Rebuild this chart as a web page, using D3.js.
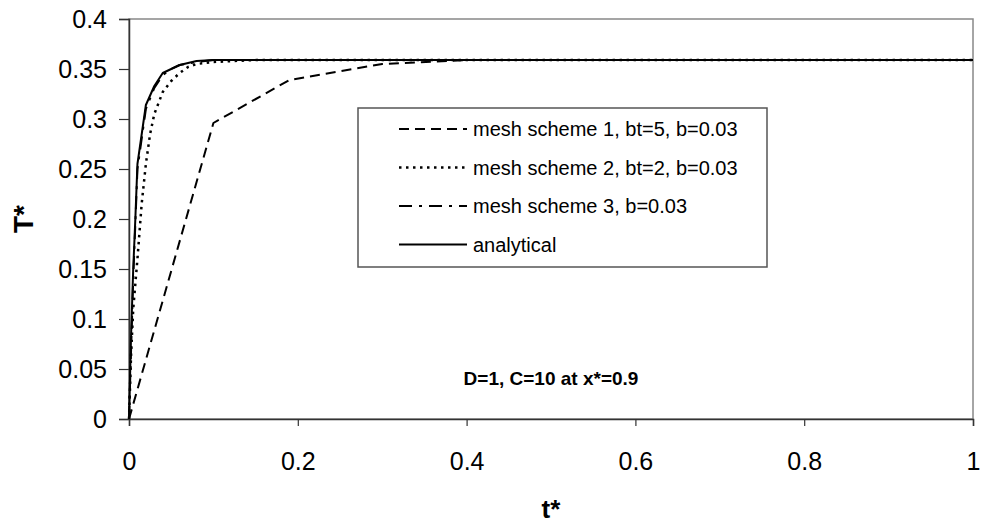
<!DOCTYPE html>
<html>
<head>
<meta charset="utf-8">
<script src="https://cdn.jsdelivr.net/npm/d3@7/dist/d3.min.js"></script>
<style>
  html, body { margin: 0; padding: 0; background: #fff; }
  svg { display: block; font-family: Arial, "Liberation Sans", sans-serif; }
</style>
</head>
<body>
<svg id="chart" width="981" height="525"></svg>
<script>
// Mesh scheme 1 (bt=5, b=0.03)
const tScheme1 = [0, 0.1, 0.19, 0.3, 0.4, 0.5, 0.6, 0.7, 0.8, 0.9, 1.0];
const TScheme1 = [0, 0.296, 0.339, 0.355, 0.359, 0.359, 0.359, 0.359, 0.359, 0.359, 0.359];

// Mesh scheme 2 (bt=2, b=0.03)
const tScheme2 = [0, 0.0025, 0.005, 0.01, 0.015, 0.02, 0.025, 0.03, 0.04, 0.05, 0.06, 0.07, 0.08, 0.1, 0.15, 0.2, 0.3, 0.4, 0.5, 0.6, 0.7, 0.8, 0.9, 1.0];
const TScheme2 = [0, 0.065, 0.11, 0.16, 0.215, 0.255, 0.285, 0.305, 0.327, 0.338, 0.346, 0.352, 0.355, 0.357, 0.359, 0.359, 0.359, 0.359, 0.359, 0.359, 0.359, 0.359, 0.359, 0.359];

// Mesh scheme 3 (b=0.03)
const tScheme3 = [0, 0.005, 0.01, 0.02, 0.03, 0.04, 0.05, 0.06, 0.08, 0.1, 0.2, 0.3, 0.4, 0.5, 0.6, 0.7, 0.8, 0.9, 1.0];
const TScheme3 = [0, 0.14, 0.25, 0.31, 0.331, 0.344, 0.35, 0.354, 0.357, 0.359, 0.359, 0.359, 0.359, 0.359, 0.359, 0.359, 0.359, 0.359, 0.359];

// Analytical solution
const tAnalytical = [0, 0.0025, 0.005, 0.0075, 0.01, 0.02, 0.03, 0.04, 0.06, 0.08, 0.1, 0.2, 0.3, 0.4, 0.5, 0.6, 0.7, 0.8, 0.9, 1.0];
const TAnalytical = [0, 0.085, 0.15, 0.2, 0.255, 0.314, 0.333, 0.346, 0.354, 0.358, 0.359, 0.359, 0.359, 0.359, 0.359, 0.359, 0.359, 0.359, 0.359, 0.359];

const xTicks = [0, 0.2, 0.4, 0.6, 0.8, 1];
const yTicks = [0, 0.05, 0.1, 0.15, 0.2, 0.25, 0.3, 0.35, 0.4];

const seriesNames = ["mesh scheme 1, bt=5, b=0.03", "mesh scheme 2, bt=2, b=0.03", "mesh scheme 3, b=0.03", "analytical"];
const xTitle = "t*";
const yTitle = "T*";
const note = "D=1, C=10 at x*=0.9";

const svg = d3.select("#chart");
const plotLeft = 129, plotRight = 973, plotTop = 19, plotBottom = 419;

const x = d3.scaleLinear().domain([0, 1]).range([plotLeft, plotRight]);
const y = d3.scaleLinear().domain([0, 0.4]).range([plotBottom, plotTop]);

const fmt = d => String(+d.toFixed(2));

// plot frame
svg.append("rect")
  .attr("x", plotLeft).attr("y", plotTop)
  .attr("width", plotRight - plotLeft).attr("height", plotBottom - plotTop)
  .attr("fill", "#fff").attr("stroke", "#888").attr("stroke-width", 1.5);

// axes
const yAxis = svg.append("g")
  .attr("transform", `translate(${plotLeft},0)`)
  .call(d3.axisLeft(y).tickValues(yTicks).tickSize(10).tickPadding(12).tickFormat(fmt));
const xAxis = svg.append("g")
  .attr("transform", `translate(0,${plotBottom})`)
  .call(d3.axisBottom(x).tickValues(xTicks).tickSize(7).tickPadding(26).tickFormat(fmt));

[yAxis, xAxis].forEach(g => {
  g.select(".domain").attr("stroke", "#333").attr("stroke-width", 1.5);
  g.selectAll(".tick line").attr("stroke", "#333").attr("stroke-width", 1.2);
  g.selectAll(".tick text")
    .attr("fill", "#000")
    .style("font-size", "25px")
    .style("font-family", "Arial, 'Liberation Sans', sans-serif");
});

// series
const series = [
  { t: tScheme1, T: TScheme1, dash: "10,6", width: 2 },
  { t: tScheme2, T: TScheme2, dash: "2.5,4.5", width: 2.5 },
  { t: tScheme3, T: TScheme3, dash: "13,7,3,7", width: 2 },
  { t: tAnalytical, T: TAnalytical, dash: null, width: 2 }
];

const line = d3.line().x(d => x(d[0])).y(d => y(d[1]));

const plot = svg.append("g");
series.forEach(s => {
  plot.append("path")
    .datum(s.t.map((tv, i) => [tv, s.T[i]]))
    .attr("d", line)
    .attr("fill", "none")
    .attr("stroke", "#000")
    .attr("stroke-width", s.width)
    .attr("stroke-dasharray", s.dash)
    .attr("stroke-linejoin", "round");
});

// legend
const legend = svg.append("g");
legend.append("rect")
  .attr("x", 358).attr("y", 108)
  .attr("width", 409).attr("height", 159)
  .attr("fill", "#fff").attr("stroke", "#555").attr("stroke-width", 1.5);

seriesNames.forEach((name, i) => {
  const ly = 129 + i * 38.5;
  legend.append("line")
    .attr("x1", 399).attr("x2", 467)
    .attr("y1", ly).attr("y2", ly)
    .attr("stroke", "#000")
    .attr("stroke-width", series[i].width)
    .attr("stroke-dasharray", series[i].dash);
  legend.append("text")
    .attr("x", 473).attr("y", ly + 7)
    .style("font-size", "20px")
    .attr("fill", "#000")
    .text(name);
});

// annotation
svg.append("text")
  .attr("x", (plotLeft + plotRight) / 2).attr("y", 385)
  .attr("text-anchor", "middle")
  .style("font-size", "19px").style("font-weight", "bold")
  .text(note);

// axis titles
svg.append("text")
  .attr("x", (plotLeft + plotRight) / 2).attr("y", 518)
  .attr("text-anchor", "middle")
  .style("font-size", "26px").style("font-weight", "bold")
  .text(xTitle);

svg.append("text")
  .attr("transform", `translate(33,${(plotTop + plotBottom) / 2}) rotate(-90)`)
  .attr("text-anchor", "middle")
  .style("font-size", "28px").style("font-weight", "bold")
  .text(yTitle);
</script>
</body>
</html>
